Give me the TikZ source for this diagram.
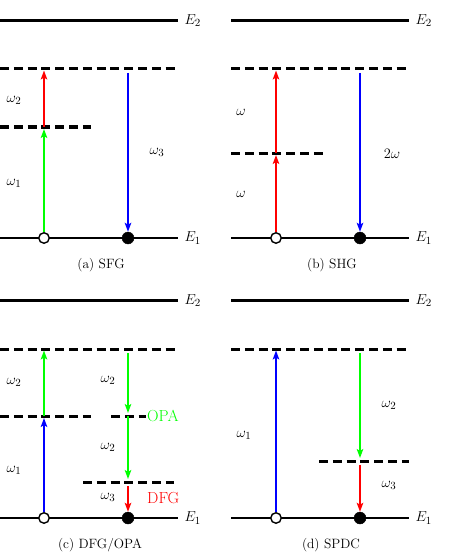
\documentclass[tikz,border=0pt]{standalone}
\usepackage{xcolor}
\usetikzlibrary{arrows.meta,positioning}

\begin{document}
\begin{tikzpicture}[x=1pt, y=-1pt,
  level/.style={line width=2.8pt},
  virt/.style={line width=3pt, dash pattern=on 9pt off 4.8pt},
  photon/.style={-{Stealth[length=9pt,width=6.5pt,inset=2pt]}, line width=2pt},
  hole/.style={draw, circle, fill=white, line width=1.4pt, inner sep=0pt, minimum size=10.5pt},
  dot/.style={draw, circle, fill=black, inner sep=0pt, minimum size=12pt},
  lbl/.style={font=\fontsize{15.5}{18}\selectfont},
  subcap/.style={font=\fontsize{13.5}{16}\selectfont}]
\useasboundingbox (0,0) rectangle (453,559);

% Shared levels of the four panels
\foreach \p/\xl/\xr/\yo in {a/0/178/0, b/231/409/0, c/0/178/280, d/231/409/280} {
  \draw[level] (\xl,{20.7+\yo}) coordinate (e2l-\p) -- (\xr,{20.7+\yo}) coordinate (e2r-\p);
  \draw[virt] (\xl,{69+\yo}) -- (\xr,{69+\yo});
  \draw[level] (\xl,{238+\yo}) coordinate (e1l-\p) -- (\xr,{238+\yo}) coordinate (e1r-\p);
  \node[lbl, right=3pt of e2r-\p] (E2-\p) {$E_2$};
  \node[lbl, right=3pt of e1r-\p] (E1-\p) {$E_1$};
}

% (a) SFG
\draw[virt] (0,127) -- (91,127);
\node[hole] (ha) at (44,238) {};
\node[dot] (da) at (128,238) {};
\coordinate (ma) at (44,127);
\coordinate (ta) at (44,69);
\coordinate (sa) at (128,69);
\draw[photon, green, shorten >=2pt] (ha) -- (ma);
\draw[photon, red, shorten >=1.5pt] (ma) -- (ta);
\draw[photon, blue, shorten <=4pt] (sa) -- (da);
\node[lbl] (w2a) at (14,100) {$\omega_2$};
\node[lbl] (w1a) at (14,183) {$\omega_1$};
\node[lbl] (w3a) at (157,152) {$\omega_3$};
\node[subcap] (capa) at (101,265) {(a) SFG};

% (b) SHG
\draw[virt] (231,153) -- (323,153);
\node[hole] (hb) at (276,238) {};
\node[dot] (db) at (360,238) {};
\coordinate (mb) at (276,153);
\coordinate (tb) at (276,69);
\coordinate (sb) at (360,69);
\draw[photon, red, shorten >=2pt] (hb) -- (mb);
\draw[photon, red, shorten >=1.5pt] (mb) -- (tb);
\draw[photon, blue, shorten <=4pt] (sb) -- (db);
\node[lbl] (w1b) at (241,112) {$\omega$};
\node[lbl] (w2b) at (241,194) {$\omega$};
\node[lbl] (w3b) at (392,154) {$2\omega$};
\node[subcap] (capb) at (332,265) {(b) SHG};

% (c) DFG/OPA
\draw[virt] (0,416) -- (91,416);
\draw[virt] (111,416) -- (146,416);
\draw[virt] (83,482) -- (174,482);
\node[hole] (hc) at (44,518) {};
\node[dot] (dc) at (128,518) {};
\coordinate (mc) at (44,416);
\coordinate (tc) at (44,349);
\coordinate (sc) at (128,349);
\coordinate (oc) at (128,416);
\coordinate (lc) at (128,482);
\draw[photon, blue, shorten >=2pt] (hc) -- (mc);
\draw[photon, green, shorten >=1.5pt] (mc) -- (tc);
\draw[photon, green, shorten <=4pt, shorten >=3pt] (sc) -- (oc);
\draw[photon, green, shorten >=3pt] (oc) -- (lc);
\draw[photon, red, shorten <=4pt] (lc) -- (dc);
\node[lbl] (w2c) at (14,382) {$\omega_2$};
\node[lbl] (w1c) at (14,470) {$\omega_1$};
\node[lbl] (w2c') at (108,380) {$\omega_2$};
\node[lbl] (w2c'') at (108,447) {$\omega_2$};
\node[lbl] (w3c) at (108,497) {$\omega_3$};
\node[font=\fontsize{16}{18}\selectfont, text=green, anchor=west, inner sep=1pt] (opa) at (146,416) {OPA};
\node[font=\fontsize{16}{18}\selectfont, text=red, anchor=west, inner sep=1pt] (dfg) at (146,498) {DFG};
\node[subcap] (capc) at (100,545) {(c) DFG/OPA};

% (d) SPDC
\draw[virt] (319,461) -- (409,461);
\node[hole] (hd) at (276,518) {};
\node[dot] (dd) at (360,518) {};
\coordinate (td) at (276,349);
\coordinate (sd) at (360,349);
\coordinate (md) at (360,461);
\draw[photon, blue, shorten >=1.5pt] (hd) -- (td);
\draw[photon, green, shorten <=4pt, shorten >=3pt] (sd) -- (md);
\draw[photon, red, shorten <=4pt] (md) -- (dd);
\node[lbl] (w1d) at (244,435) {$\omega_1$};
\node[lbl] (w2d) at (389,405) {$\omega_2$};
\node[lbl] (w3d) at (389,485) {$\omega_3$};
\node[subcap] (capd) at (331,545) {(d) SPDC};
\end{tikzpicture}
\end{document}
